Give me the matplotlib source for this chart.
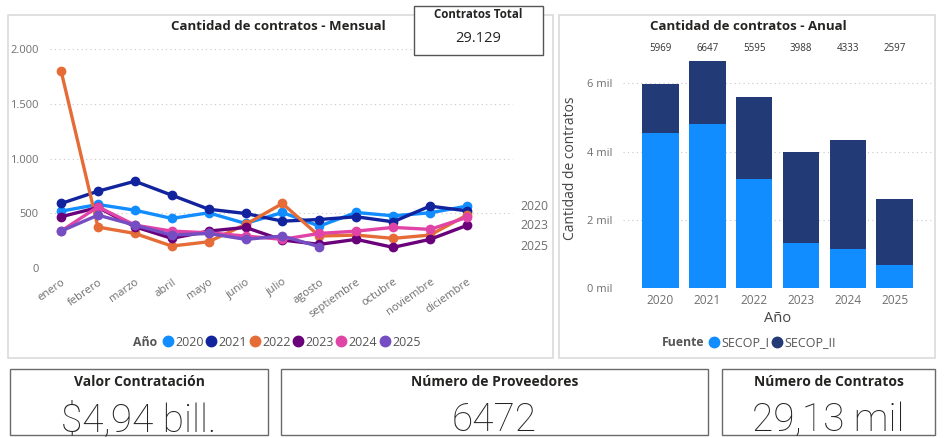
import matplotlib
matplotlib.use("Agg")
import matplotlib.pyplot as plt
from matplotlib.patches import Rectangle
from matplotlib.lines import Line2D
from matplotlib.ticker import FixedLocator

# ---------------- data ----------------
months = ["enero", "febrero", "marzo", "abril", "mayo", "junio", "julio",
          "agosto", "septiembre", "octubre", "noviembre", "diciembre"]
years = ["2020", "2021", "2022", "2023", "2024", "2025"]
m2020 = [521, 582, 530, 455, 506, 409, 509, 385, 509, 479, 506, 567]
m2021 = [591, 703, 794, 667, 539, 500, 430, 445, 470, 424, 567, 524]
m2022 = [1801, 376, 318, 203, 242, 400, 591, 294, 303, 273, 303, 485]
m2023 = [470, 555, 379, 273, 339, 373, 258, 218, 264, 191, 264, 391]
m2024 = [339, 561, 394, 339, 324, 294, 264, 318, 339, 373, 355, 464]
m2025 = [339, 485, 394, 303, 318, 264, 294, 197]
monthly = [m2020, m2021, m2022, m2023, m2024, m2025]
end_labels = ["2020", "2023", "2025"]
ytick_vals = [0, 500, 1000, 1500, 2000]
ytick_labels = ["0", "500", "1.000", "1.500", "2.000"]

secop_i = [4537, 4800, 3196, 1329, 1135, 683]
totals = [5969, 6647, 5595, 3988, 4333, 2597]
secop_ii = [t - s for t, s in zip(totals, secop_i)]
bar_ticks = [0, 2000, 4000, 6000]
bar_tick_labels = ["0 mil", "2 mil", "4 mil", "6 mil"]

contratos_total = "29.129"
cards = [("Valor Contratación", "$4,94 bill."),
         ("Número de Proveedores", "6472"),
         ("Número de Contratos", "29,13 mil")]

# ---------------- style ----------------
colors = ["#118DFF", "#12239E", "#E66C37", "#6B007B", "#E044A7", "#744EC2"]
c_secop_i = "#118DFF"
c_secop_ii = "#223A76"
FONT = ["Open Sans", "DejaVu Sans"]
VALUE_FONT = ["Roboto", "Lato", "DejaVu Sans"]
plt.rcParams["font.family"] = FONT
W, H = 944, 438
fig = plt.figure(figsize=(W / 100, H / 100), dpi=100)
fig.patch.set_facecolor("white")


def fx(x):
    return x / W


def fy(y):
    return 1 - y / H


def box(x0, y0, x1, y1, ec, lw=1.0):
    fig.patches.append(Rectangle((fx(x0), fy(y1)), fx(x1) - fx(x0), fy(y0) - fy(y1),
                                 transform=fig.transFigure, fill=False, ec=ec, lw=lw))


# panels
box(8, 15, 553, 358, "#DADADA", 1.2)
box(559, 15, 935, 358, "#DADADA", 1.2)

gray = "#6F6F6F"
# ---------------- line chart ----------------
ax = fig.add_axes([fx(50), fy(268.3), fx(513) - fx(50), fy(49) - fy(268.3)])
x_idx = list(range(len(months)))
for vals, col, yr in zip(monthly, colors, years):
    ax.plot(x_idx[:len(vals)], vals, color=col, lw=2.4, marker="o", ms=6,
            clip_on=False, zorder=3, label=yr)
ax.set_xlim(-0.3, 12.25)
ax.set_ylim(0, 2000)
ax.yaxis.set_major_locator(FixedLocator(ytick_vals))
ax.set_yticklabels(ytick_labels)
ax.set_xticks(x_idx)
ax.set_xticklabels(months, rotation=35, ha="right", rotation_mode="anchor")
for s in ax.spines.values():
    s.set_visible(False)
ax.tick_params(axis="both", length=0, colors=gray, labelsize=8)
ax.tick_params(axis="y", pad=8)
ax.tick_params(axis="x", pad=6)
ax.grid(axis="y", color="#C8C8C8", ls=(0, (1, 3)), lw=0.8)
ax.set_axisbelow(True)
for lab in end_labels:
    i = years.index(lab)
    ax.text(1.015, monthly[i][-1], lab, transform=ax.get_yaxis_transform(),
            va="center", ha="left", color=gray, fontsize=8.8)

fig.text(fx(278), fy(27), "Cantidad de contratos - Mensual", ha="center", va="center",
         fontsize=9.5, fontweight="bold", color="#252423")

# legend
fig.text(fx(133), fy(342), "Año", ha="left", va="center", fontsize=8.8,
         fontweight="bold", color="#555555")
handles = [Line2D([], [], ls="none", marker="o", ms=7.5, color=c) for c in colors]
fig.legend(handles, years, loc="center left", bbox_to_anchor=(fx(160), fy(342)),
           ncol=6, frameon=False, handletextpad=0.0, columnspacing=0.0,
           handlelength=1.2, fontsize=9.0, labelcolor="#555555", borderpad=0,
           borderaxespad=0)

# contratos total box
fig.patches.append(Rectangle((fx(414), fy(55)), fx(543) - fx(414), fy(6) - fy(55),
                             transform=fig.transFigure, fc="white", ec="#555555", lw=1.0))
fig.text(fx(478.5), fy(15), "Contratos Total", ha="center", va="center",
         fontsize=8.3, fontweight="bold", color="#252423")
fig.text(fx(478.5), fy(38), contratos_total, ha="center", va="center",
         fontsize=10.5, color="#252423")

# ---------------- bar chart ----------------
bx = fig.add_axes([fx(623), fy(288), fx(933) - fx(623), fy(49.3) - fy(288)])
xb = list(range(len(years)))
bx.bar(xb, secop_i, width=0.78, color=c_secop_i, zorder=2, label="SECOP_I")
bx.bar(xb, secop_ii, width=0.78, bottom=secop_i, color=c_secop_ii, zorder=2,
       label="SECOP_II")
bx.set_xlim(-0.8, 5.82)
bx.set_ylim(0, 7000)
bx.yaxis.set_major_locator(FixedLocator(bar_ticks))
bx.set_yticklabels(bar_tick_labels)
bx.set_xticks(xb)
bx.set_xticklabels(years)
for s in bx.spines.values():
    s.set_visible(False)
bx.tick_params(axis="both", length=0, colors=gray, labelsize=8)
bx.tick_params(axis="x", labelsize=8.6)
bx.tick_params(axis="y", pad=8)
bx.tick_params(axis="x", pad=4)
bx.grid(axis="y", color="#C8C8C8", ls=(0, (1, 3)), lw=0.8)
bx.set_axisbelow(True)
for i, t in enumerate(totals):
    bx.text(i, 1.005, str(t), transform=bx.get_xaxis_transform(), ha="center",
            va="center", fontsize=7, color="#333333")
bx.set_ylabel("Cantidad de contratos", fontsize=10, color="#444444", labelpad=6)
bx.set_xlabel("Año", fontsize=10.5, color="#444444", labelpad=3)

fig.text(fx(748), fy(26), "Cantidad de contratos - Anual", ha="center", va="center",
         fontsize=9.5, fontweight="bold", color="#252423")
fig.text(fx(662), fy(343), "Fuente", ha="left", va="center", fontsize=8.8,
         fontweight="bold", color="#555555")
h2 = [Line2D([], [], ls="none", marker="o", ms=7.5, color=c) for c in [c_secop_i, c_secop_ii]]
fig.legend(h2, ["SECOP_I", "SECOP_II"], loc="center left",
           bbox_to_anchor=(fx(706), fy(343)), ncol=2, frameon=False,
           handletextpad=0.0, columnspacing=0.0, handlelength=1.2, fontsize=9.0,
           labelcolor="#555555", borderpad=0, borderaxespad=0)

# ---------------- cards ----------------
card_boxes = [(10, 369, 268, 435), (281, 369, 708, 435), (722, 369, 935, 435)]
for (title, value), (x0, y0, x1, y1) in zip(cards, card_boxes):
    box(x0, y0, x1, y1, "#6A6A6A", 1.0)
    cx = (x0 + x1) / 2
    fig.text(fx(cx), fy(382), title, ha="center", va="center", fontsize=10,
             fontweight="bold", color="#252423")
    fig.text(fx(cx), fy(431), value, ha="center", va="baseline", fontsize=28,
             fontweight="light", color="#252423", family=VALUE_FONT)

fig.savefig("out.png", dpi=100, facecolor="white")
